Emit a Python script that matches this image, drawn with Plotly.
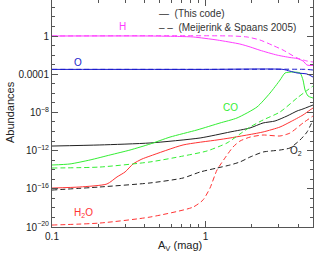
import math
import plotly.graph_objects as go

# ---- data (Av in mag, abundances) ----
h_solid_av = [0.1, 0.435, 0.68, 0.83, 1.19, 1.67, 1.95, 2.26, 2.92, 3.54, 3.94, 4.31, 4.57, 5.0]
h_solid_ab = [1.0, 1.0, 0.89, 0.79, 0.38, 0.145, 0.071, 0.032, 0.010, 0.0056, 0.0044, 0.0024, 0.00091, 0.00081]
h_dash_av = [0.1, 1.5, 1.86, 2.26, 2.75, 3.19, 3.94, 4.57, 5.0]
h_dash_ab = [1.0, 1.0, 0.79, 0.38, 0.10, 0.034, 0.0050, 0.0024, 0.0019]

o_solid_av = [0.1, 1.0, 3.19, 3.54, 3.94, 4.57, 5.0]
o_solid_ab = [3.2e-4, 3.2e-4, 3.2e-4, 2.1e-4, 1.35e-4, 1.05e-4, 5.1e-5]
o_dash_av = [0.1, 1.0, 4.5, 5.0]
o_dash_ab = [3.2e-4, 3.2e-4, 3.2e-4, 2.75e-4]

co_solid_av = [0.1, 0.131, 0.177, 0.239, 0.322, 0.435, 0.586, 0.879, 1.241, 1.600, 2.161, 2.626, 3.050, 3.289, 3.705, 4.118, 4.306, 4.438, 4.643, 5.0]
co_solid_ab = [3.1e-14, 4.0e-14, 1.05e-13, 3.5e-13, 1.15e-12, 4.9e-12, 2.6e-11, 1.45e-10, 7.8e-10, 2.6e-9, 3.7e-8, 1.07e-6, 2.45e-5, 1.35e-4, 1.7e-4, 1.35e-4, 2.45e-5, 2.2e-6, 5.2e-7, 3.2e-7]
co_dash_av = [0.1, 0.205, 0.435, 0.713, 1.02, 1.378, 1.674, 1.945, 2.365, 3.050, 3.935, 4.438, 5.0]
co_dash_ab = [1.5e-14, 1.9e-14, 6.5e-14, 2.7e-13, 9.1e-13, 6.3e-12, 5.5e-11, 2.95e-10, 1.6e-9, 1.1e-8, 3.2e-7, 1.4e-6, 5.8e-6]

o2_solid_av = [0.1, 0.205, 0.435, 0.921, 1.442, 1.945, 2.365, 2.83, 3.389, 3.935, 4.306, 4.643, 5.0]
o2_solid_ab = [3.0e-12, 3.9e-12, 6.3e-12, 2.1e-11, 8.9e-11, 2.35e-10, 7.8e-10, 1.26e-9, 4.2e-9, 1.4e-8, 2.3e-8, 3.7e-8, 5.9e-8]
o2_dash_av = [0.1, 0.205, 0.435, 0.713, 0.921, 1.186, 1.442, 1.674, 1.945, 2.365, 3.050, 3.543, 4.118, 4.574, 5.0]
o2_dash_ab = [7.4e-17, 1.55e-16, 4.1e-16, 1.35e-15, 5.8e-15, 1.5e-14, 3.1e-14, 6.5e-14, 2.1e-13, 7.1e-13, 1.15e-12, 1.9e-12, 1.3e-11, 8.9e-11, 1.6e-9]

h2o_solid_av = [0.1, 0.152, 0.228, 0.265, 0.299, 0.337, 0.385, 0.435, 0.713, 1.186, 1.442, 2.365, 3.050, 3.543, 4.306, 4.785, 5.0]
h2o_solid_ab = [1.2e-16, 1.55e-16, 3.2e-16, 1.75e-15, 5.8e-15, 4.0e-14, 1.3e-13, 2.7e-13, 3.9e-12, 1.3e-11, 2.1e-11, 8.9e-11, 2.95e-10, 9.8e-10, 5.4e-9, 1.8e-8, 2.9e-8]
h2o_dash_av = [0.1, 0.205, 0.435, 0.828, 0.962, 1.068, 1.186, 1.337, 1.508, 1.674, 1.945, 2.365, 3.05, 3.543, 4.306, 5.0]
h2o_dash_ab = [1.6e-20, 2.6e-20, 1.1e-19, 1.2e-18, 6.8e-18, 1.2e-16, 9.3e-15, 1.7e-13, 2.4e-12, 1.0e-11, 2.6e-11, 4.3e-11, 3.4e-11, 6.9e-11, 7.8e-10, 4.2e-9]

y_tick_vals = [1e-20, 1e-16, 1e-12, 1e-8, 1e-4, 1]
y_tick_text = ["10<sup>−20</sup>", "10<sup>−16</sup>", "10<sup>−12</sup>", "10<sup>−8</sup>", "0.0001", "1"]
x_tick_vals = [0.1, 1]
x_tick_text = ["0.1", "1"]

MAGENTA = "#ff3cff"
BLUE = "#1a1acc"
GREEN = "#33ee33"
RED = "#ff3333"
BLACK = "#222222"
DASH = "5px,3px"

fig = go.Figure()

def add(x, y, color, dashed):
    fig.add_trace(go.Scatter(
        x=x, y=y, mode="lines",
        line=dict(color=color, width=1, dash=DASH if dashed else "solid",
                  shape="spline", smoothing=0.6),
        showlegend=False, hoverinfo="skip", cliponaxis=True))

add(o2_dash_av, o2_dash_ab, BLACK, True)
add(o2_solid_av, o2_solid_ab, BLACK, False)
add(h2o_dash_av, h2o_dash_ab, RED, True)
add(h2o_solid_av, h2o_solid_ab, RED, False)
add(co_dash_av, co_dash_ab, GREEN, True)
add(co_solid_av, co_solid_ab, GREEN, False)
add(o_dash_av, o_dash_ab, BLUE, True)
add(o_solid_av, o_solid_ab, BLUE, False)
add(h_dash_av, h_dash_ab, MAGENTA, True)
add(h_solid_av, h_solid_ab, MAGENTA, False)

x_minor = [0.2, 0.3, 0.4, 0.5, 0.6, 0.7, 0.8, 0.9, 2, 3, 4]
y_minor = [10.0 ** e for e in range(-20, 4) if e % 4 != 0]

FONT = "Liberation Sans, Arial, sans-serif"
AX = "#555555"

fig.update_xaxes(
    type="log", range=[-1, math.log10(5)], automargin=False,
    tickvals=x_tick_vals, ticktext=x_tick_text,
    ticks="inside", ticklen=6, tickcolor=AX, mirror="ticks",
    showline=True, linecolor=AX, linewidth=1, showgrid=False, zeroline=False,
    minor=dict(tickvals=x_minor, ticks="inside", ticklen=3, tickcolor=AX, showgrid=False),
    tickfont=dict(size=10, color="#222", family=FONT),
)
fig.update_yaxes(
    type="log", range=[-20, 3.77], automargin=False,
    tickvals=y_tick_vals, ticktext=y_tick_text,
    ticks="inside", ticklen=6, tickcolor=AX, mirror="ticks",
    showline=True, linecolor=AX, linewidth=1, showgrid=False, zeroline=False,
    minor=dict(tickvals=y_minor, ticks="inside", ticklen=3, tickcolor=AX, showgrid=False),
    tickfont=dict(size=10, color="#222", family=FONT),
)

PW, PH, L0, T0 = 261.0, 227.0, 52.0, 0.0

def ann(px, py, text, color, size=10, xanchor="center", angle=0):
    fig.add_annotation(x=(px - L0) / PW, y=1 - (py - T0) / PH, xref="paper", yref="paper",
                       text=text, showarrow=False, xanchor=xanchor, yanchor="middle",
                       textangle=angle, font=dict(size=size, color=color, family=FONT))

ann(122, 26, "H", MAGENTA)
ann(78, 62, "O", BLUE)
ann(230, 108, "CO", GREEN)
ann(296, 151, "O<sub>2</sub>", BLACK)
ann(83, 213, "H<sub>2</sub>O", RED)
ann(157, 13, "—  (This code)", "#333", xanchor="left")
ann(157, 28, "– –  (Meijerink &amp; Spaans 2005)", "#333", xanchor="left")
ann(10, 112, "Abundances", "#222", size=11, angle=-90)
ann(180, 246, "A<sub>V</sub> (mag)", "#222", size=11)

fig.update_layout(
    width=314, height=258,
    margin=dict(l=52, r=1, t=0, b=31, autoexpand=False),
    paper_bgcolor="white", plot_bgcolor="white",
    font=dict(family=FONT),
)

fig.write_html("out.html", config={"displayModeBar": False, "staticPlot": True},
               post_script="document.body.style.margin='0';document.body.style.overflow='hidden';")
